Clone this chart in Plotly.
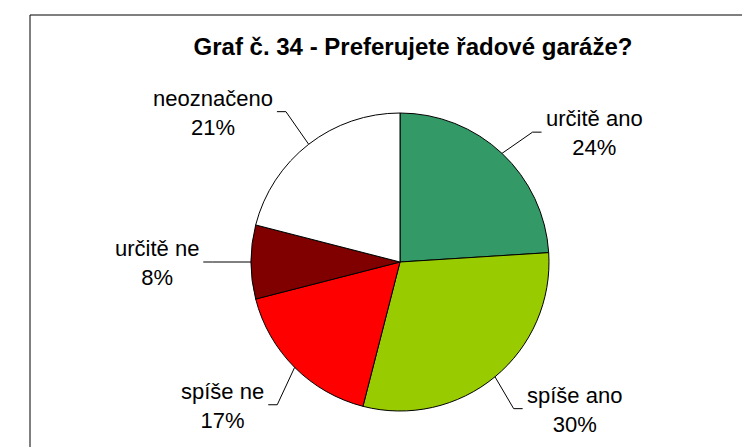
import math
import plotly.graph_objects as go

# data
labels = ["určitě ano", "spíše ano", "spíše ne", "určitě ne", "neoznačeno"]
values = [24, 30, 17, 8, 21]
colors = ["#339966", "#99CC00", "#FF0000", "#800000", "#FFFFFF"]
title = "Graf č. 34 - Preferujete řadové garáže?"

W, H = 750, 447
OFF = 8  # page body margin
cx, cy, R = 400, 262, 149  # pie centre and radius in window pixels
# small pixel nudges of the leader-line elbows, like the original layout
nudge = {"určitě ano": (4, 7), "spíše ano": (-6, 2), "spíše ne": (10, 10),
         "určitě ne": (0, 0), "neoznačeno": (1, -2)}


def px(x, y):
    return (x - OFF) / W, 1 - (y - OFF) / H


fig = go.Figure()
fig.add_trace(go.Pie(
    labels=labels, values=values, sort=False, direction="clockwise",
    rotation=0, textinfo="none", hoverinfo="label+percent",
    marker=dict(colors=colors, line=dict(color="black", width=1)),
    domain=dict(x=[px(cx - R, 0)[0], px(cx + R, 0)[0]],
                y=[px(0, cy + R)[1], px(0, cy - R)[1]]),
    showlegend=False,
))

# outside labels with leader lines, placed from each slice's mid angle
total = sum(values)
shapes = []
annotations = []
cum = 0
for lab, v in zip(labels, values):
    mid = (cum + v / 2) / total * 2 * math.pi
    cum += v
    ux, uy = math.sin(mid), -math.cos(mid)
    x0, y0 = cx + R * ux, cy + R * uy
    dx, dy = nudge[lab]
    x1, y1 = cx + 1.26 * R * ux + dx, cy + 1.26 * R * uy + dy
    side = 1 if ux > 0 else -1
    x2 = x1 + side * 9
    p0, p1, p2 = px(x0, y0), px(x1, y1), px(x2, y1)
    shapes.append(dict(
        type="path", xref="paper", yref="paper",
        path=f"M {p0[0]} {p0[1]} L {p1[0]} {p1[1]} L {p2[0]} {p2[1]}",
        line=dict(color="black", width=1),
    ))
    tx, ty = px(x2 + side * 2, y1 + 1)
    annotations.append(dict(
        x=tx, y=ty, xref="paper", yref="paper",
        text=f"{lab}<br>{round(v / total * 100)}%",
        showarrow=False, align="center",
        xanchor="left" if side > 0 else "right", yanchor="middle",
        font=dict(family="Liberation Sans, Arial", size=22, color="black"),
    ))

# chart frame
fx, fy = px(30, 15)
shapes.append(dict(
    type="rect", xref="paper", yref="paper",
    x0=fx, x1=1.05, y0=-0.05, y1=fy,
    line=dict(color="black", width=1),
))

tx, ty = px(413, 47)
fig.update_layout(
    width=W, height=H,
    margin=dict(l=0, r=0, t=0, b=0),
    paper_bgcolor="white", plot_bgcolor="white",
    title=dict(text=f"<b>{title}</b>", x=tx, y=ty,
               xanchor="center", yanchor="middle",
               font=dict(family="Liberation Sans, Arial", size=24, color="black")),
    shapes=shapes, annotations=annotations,
)

fig.write_html("out.html")
